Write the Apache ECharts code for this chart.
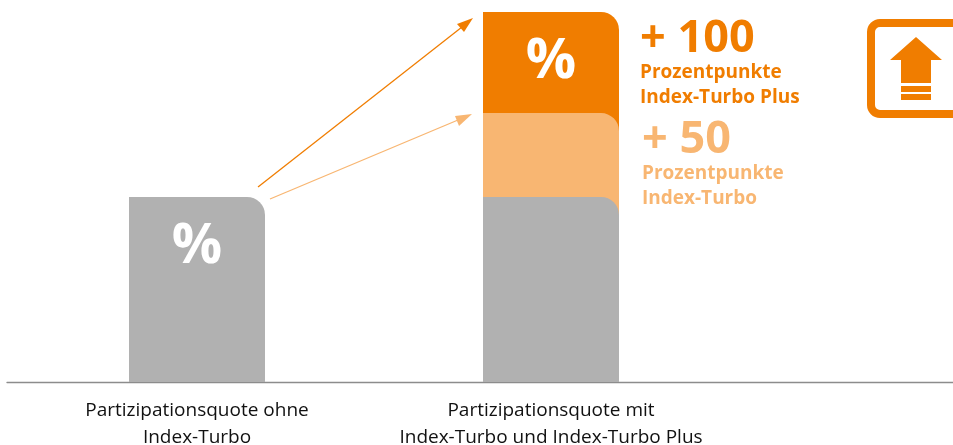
<!DOCTYPE html>
<html><head><meta charset="utf-8">
<style>html,body{margin:0;padding:0;background:#fff}#c{width:953px;height:445px}</style>
<script src="https://cdn.jsdelivr.net/npm/echarts@6/dist/echarts.min.js"></script>
</head><body><div id="c"></div>
<script>
const categories = ["Partizipationsquote ohne\nIndex-Turbo", "Partizipationsquote mit\nIndex-Turbo und Index-Turbo Plus"];
const basePart = [100, 100];
const withIndexTurbo = [null, 145.4];
const withIndexTurboPlus = [null, 200];
const percentLabel = "%";
const DARK = "#F07D00", LIGHT = "#F8B672", GREY = "#B1B1B1";
const FONT = "'Open Sans'";
const PX_PER_CAT = 354;
const pts = a => a.map((v, i) => [i, v]);
const barBase = {type: "bar", barWidth: 136, barGap: "-100%", animation: false,
  itemStyle: {borderRadius: [0, 18, 0, 0]}, silent: true};
const pctLabel = {show: true, position: "insideTop", distance: 22, color: "#fff",
  fontFamily: FONT, fontWeight: 700, fontSize: 56, formatter: percentLabel};
const t = (x, y, text, size, color) => ({type: "text", x, y,
  style: {text, fontFamily: FONT, fontWeight: 700, fontSize: size, fill: color, textVerticalAlign: "middle"}});
const line = (x1, y1, x2, y2, c) => ({type: "line", shape: {x1, y1, x2, y2}, style: {stroke: c, lineWidth: 1.3}});
const head = (pts, c) => ({type: "polygon", shape: {points: pts}, style: {fill: c}});
const chart = echarts.init(document.getElementById("c"), null, {renderer: "canvas"});
chart.setOption({
  animation: false,
  grid: {left: 7, right: 0, top: 12, bottom: 63, outerBoundsMode: "none"},
  xAxis: {type: "value", min: -190 / PX_PER_CAT, max: 756 / PX_PER_CAT, splitLine: {show: false},
    axisLine: {show: true, onZero: false, lineStyle: {color: "#8C8C8C", width: 1.3}}, axisTick: {show: false},
    axisLabel: {customValues: [0, 1], margin: 15, color: "#111", fontFamily: FONT, fontSize: 19, lineHeight: 27,
      formatter: v => categories[Math.round(v)], hideOverlap: false, showMinLabel: true, showMaxLabel: true}},
  yAxis: {type: "value", min: 0, max: 200, show: false},
  series: [
    {...barBase, name: "Index-Turbo Plus", data: pts(withIndexTurboPlus), itemStyle: {...barBase.itemStyle, color: DARK},
      label: pctLabel},
    {...barBase, name: "Index-Turbo", data: pts(withIndexTurbo), itemStyle: {...barBase.itemStyle, color: LIGHT}},
    {...barBase, name: "Ohne", data: pts(basePart), itemStyle: {...barBase.itemStyle, color: GREY},
      label: {...pctLabel, formatter: p => p.dataIndex === 0 ? percentLabel : ""}}
  ],
  graphic: [
    line(258, 187, 462, 27, DARK), head([[473,18],[457,24],[464,32]], DARK),
    line(270, 199, 458, 120, LIGHT), head([[472,114],[455,116],[459,126]], LIGHT),
    t(640, 39, "+ 100", 45, DARK), t(640, 73, "Prozentpunkte", 19, DARK), t(640, 98, "Index-Turbo Plus", 19, DARK),
    t(642, 140, "+ 50", 45, LIGHT), t(642, 174, "Prozentpunkte", 19, LIGHT), t(642, 199, "Index-Turbo", 19, LIGHT),
    {type: "rect", shape: {x: 871, y: 23, width: 100, height: 91, r: 9}, style: {fill: "none", stroke: DARK, lineWidth: 8}},
    head([[916,37],[942,60],[931,60],[931,83],[901,83],[901,60],[890,60]], DARK),
    {type: "rect", shape: {x: 901, y: 86, width: 30, height: 6}, style: {fill: DARK}},
    {type: "rect", shape: {x: 901, y: 94, width: 30, height: 6}, style: {fill: DARK}}
  ]
});
</script></body></html>
